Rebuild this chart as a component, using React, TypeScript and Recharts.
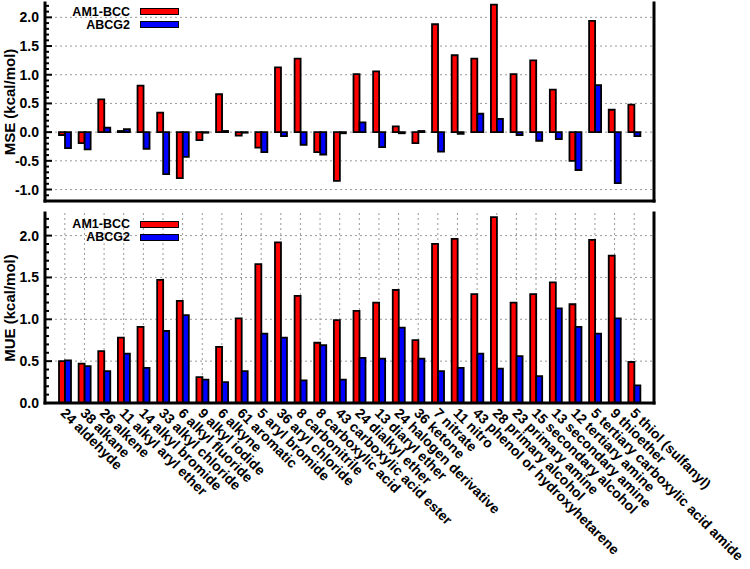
import { BarChart, Bar, XAxis, YAxis, CartesianGrid, Legend } from "recharts"

const FONT = "'Liberation Sans', Arial, Helvetica, sans-serif"
const RED = "#ff0000"
const BLUE = "#0000ff"

// functional groups (count + name), alphabetical as in the paper figure
const categories = [
  "24 aldehyde", "38 alkane", "26 alkene", "11 alkyl aryl ether", "14 alkyl bromide",
  "33 alkyl chloride", "6 alkyl fluoride", "9 alkyl iodide", "6 alkyne", "61 aromatic",
  "5 aryl bromide", "36 aryl chloride", "8 carbonitrile", "8 carboxylic acid",
  "43 carboxylic acid ester", "24 dialkyl ether", "13 diaryl ether", "24 halogen derivative",
  "36 ketone", "7 nitrate", "11 nitro", "43 phenol or hydroxyhetarene", "28 primary alcohol",
  "23 primary amine", "15 secondary alcohol", "13 secondary amine", "12 tertiary amine",
  "5 tertiary carboxylic acid amide", "9 thioether", "5 thiol (sulfanyl)",
]

const seriesNames = ["AM1-BCC", "ABCG2"]

const mseAm1 = [
  -0.05, -0.19, 0.57, 0.02, 0.81, 0.34, -0.8, -0.14, 0.66, -0.06,
  -0.27, 1.13, 1.28, -0.35, -0.85, 1.01, 1.06, 0.1, -0.19, 1.88,
  1.34, 1.28, 2.22, 1.01, 1.25, 0.74, -0.5, 1.94, 0.39, 0.48,
]
const mseAbcg2 = [
  -0.28, -0.3, 0.08, 0.05, -0.29, -0.73, -0.43, -0.01, 0.02, -0.01,
  -0.35, -0.07, -0.22, -0.39, -0.02, 0.17, -0.26, -0.02, 0.02, -0.34,
  -0.03, 0.32, 0.23, -0.05, -0.15, -0.12, -0.66, 0.82, -0.89, -0.07,
]
const mueAm1 = [
  0.5, 0.47, 0.62, 0.78, 0.91, 1.47, 1.22, 0.31, 0.67, 1.01,
  1.66, 1.92, 1.28, 0.72, 0.99, 1.1, 1.2, 1.35, 0.75, 1.9,
  1.96, 1.3, 2.22, 1.2, 1.3, 1.44, 1.18, 1.95, 1.76, 0.49,
]
const mueAbcg2 = [
  0.51, 0.44, 0.38, 0.59, 0.42, 0.86, 1.05, 0.28, 0.25, 0.38,
  0.83, 0.78, 0.27, 0.69, 0.28, 0.54, 0.53, 0.9, 0.53, 0.38,
  0.42, 0.59, 0.41, 0.56, 0.32, 1.13, 0.91, 0.83, 1.01, 0.21,
]

const mseMajor = [-1, -0.5, 0, 0.5, 1, 1.5, 2]
const mseTicks = [
  -1.2, -1.1, -1, -0.9, -0.8, -0.7, -0.6, -0.5, -0.4, -0.3, -0.2, -0.1, 0,
  0.1, 0.2, 0.3, 0.4, 0.5, 0.6, 0.7, 0.8, 0.9, 1, 1.1, 1.2, 1.3, 1.4, 1.5,
  1.6, 1.7, 1.8, 1.9, 2, 2.1, 2.2,
]
const mueMajor = [0, 0.5, 1, 1.5, 2]
const mueTicks = [
  0, 0.1, 0.2, 0.3, 0.4, 0.5, 0.6, 0.7, 0.8, 0.9, 1, 1.1, 1.2, 1.3, 1.4, 1.5,
  1.6, 1.7, 1.8, 1.9, 2, 2.1, 2.2,
]

const mseData = categories.map((name, i) => ({ name, am1: mseAm1[i], abcg2: mseAbcg2[i] }))
const mueData = categories.map((name, i) => ({ name, am1: mueAm1[i], abcg2: mueAbcg2[i] }))

const frame = { stroke: "#000", strokeWidth: 3, strokeLinecap: "square" as const }
const pad = { left: 10, right: 10 }

function isMajor(v: number) {
  return Math.abs(v * 2 - Math.round(v * 2)) < 1e-6
}

// tick marks point into the plot, long on 0.5 steps, short on 0.1 steps
function LeftTick(props: any) {
  const { x, y, payload } = props
  const v = payload.value
  const major = isMajor(v)
  return (
    <g>
      <line x1={x} x2={x + (major ? 7 : 4)} y1={y} y2={y} stroke="#000" strokeWidth={2} />
      {major && (
        <text x={x - 6} y={y} dy="0.36em" textAnchor="end" fontFamily={FONT} fontWeight="bold" fontSize={14} fill="#000">
          {v.toFixed(1)}
        </text>
      )}
    </g>
  )
}

function RightTick(props: any) {
  const { x, y, payload } = props
  const major = isMajor(payload.value)
  return <line x1={x} x2={x - (major ? 7 : 4)} y1={y} y2={y} stroke="#000" strokeWidth={2} />
}

function CategoryTick(props: any) {
  const { x, y, payload } = props
  return (
    <text
      transform={`translate(${x - 5}, ${y + 11}) rotate(45)`}
      textAnchor="start"
      fontFamily={FONT}
      fontWeight="bold"
      fontSize={14}
      fill="#000"
    >
      {payload.value}
    </text>
  )
}

function YLabel(props: any) {
  const vb = props.viewBox ?? { x: 0, y: 0, width: 45, height: 200 }
  return (
    <text
      transform={`translate(${vb.x + 15}, ${vb.y + vb.height / 2}) rotate(-90)`}
      textAnchor="middle"
      fontFamily={FONT}
      fontWeight="bold"
      fontSize={15}
      fill="#000"
    >
      {props.text}
    </text>
  )
}

function LegendBox(props: any) {
  const items = [...(props.payload ?? [])].sort(
    (a: any, b: any) => seriesNames.indexOf(a.value) - seriesNames.indexOf(b.value)
  )
  return (
    <div style={{ fontFamily: FONT, fontWeight: "bold", fontSize: 12.5, lineHeight: "12px", width: 112 }}>
      {items.map((it: any, i: number) => (
        <div key={it.value} style={{ display: "flex", alignItems: "center", height: 12, marginTop: i ? 1 : 0 }}>
          <span style={{ flex: "0 0 62px", textAlign: "right", whiteSpace: "nowrap" }}>{it.value}</span>
          <span
            style={{
              flex: "0 0 37px",
              marginLeft: 10,
              height: 5,
              background: it.color,
              border: "1.5px solid #000",
            }}
          />
        </div>
      ))}
    </div>
  )
}

function Panel(props: {
  data: any[]
  domain: [number, number]
  ticks: number[]
  major: number[]
  label: string
  height: number
  top: number
  xHeight: number
  showNames: boolean
  legendTop: number
}) {
  const { data, domain, ticks, major, label, height, top, xHeight, showNames, legendTop } = props
  return (
    <BarChart
      width={750}
      height={height}
      data={data}
      margin={{ top, right: 95, bottom: 0, left: 0 }}
      barGap={0}
      barSize={6}
    >
      <CartesianGrid horizontalValues={major} stroke="#999" strokeDasharray="2 3" strokeWidth={1} />
      <XAxis
        dataKey="name"
        padding={pad}
        height={xHeight}
        interval={0}
        axisLine={frame}
        tickLine={false}
        tickSize={0}
        tickMargin={0}
        tick={showNames ? <CategoryTick /> : false}
      />
      <XAxis xAxisId="top" orientation="top" dataKey="name" padding={pad} height={0} tick={false} tickLine={false} axisLine={frame} />
      <YAxis
        type="number"
        domain={domain}
        ticks={ticks}
        interval={0}
        width={45}
        axisLine={frame}
        tickLine={false}
        tickSize={0}
        tickMargin={0}
        tick={<LeftTick />}
        label={<YLabel text={label} />}
      />
      <YAxis
        yAxisId="right"
        orientation="right"
        type="number"
        domain={domain}
        ticks={ticks}
        interval={0}
        width={1}
        axisLine={frame}
        tickLine={false}
        tickSize={0}
        tickMargin={0}
        tick={<RightTick />}
      />
      <Legend
        layout="vertical"
        align="center"
        verticalAlign="middle"
        wrapperStyle={{ top: legendTop, left: 68, width: 112 }}
        content={<LegendBox />}
      />
      <Bar dataKey="am1" name={seriesNames[0]} fill={RED} stroke="#000" strokeWidth={1.8} isAnimationActive={false} />
      <Bar dataKey="abcg2" name={seriesNames[1]} fill={BLUE} stroke="#000" strokeWidth={1.8} isAnimationActive={false} />
    </BarChart>
  )
}

export default function App() {
  return (
    <div style={{ position: "absolute", left: 0, top: 0, width: 750, height: 569, background: "#fff" }}>
      <div style={{ position: "absolute", left: 0, top: 0 }}>
        <Panel
          data={mseData}
          domain={[-1.2, 2.25]}
          ticks={mseTicks}
          major={mseMajor}
          label="MSE (kcal/mol)"
          height={206}
          top={3}
          xHeight={5}
          showNames={false}
          legendTop={5.5}
        />
      </div>
      <div style={{ position: "absolute", left: 0, top: 206 }}>
        <Panel
          data={mueData}
          domain={[0, 2.27]}
          ticks={mueTicks}
          major={mueMajor}
          label="MUE (kcal/mol)"
          height={363}
          top={7}
          xHeight={166}
          showNames={true}
          legendTop={12}
        />
      </div>
    </div>
  )
}
